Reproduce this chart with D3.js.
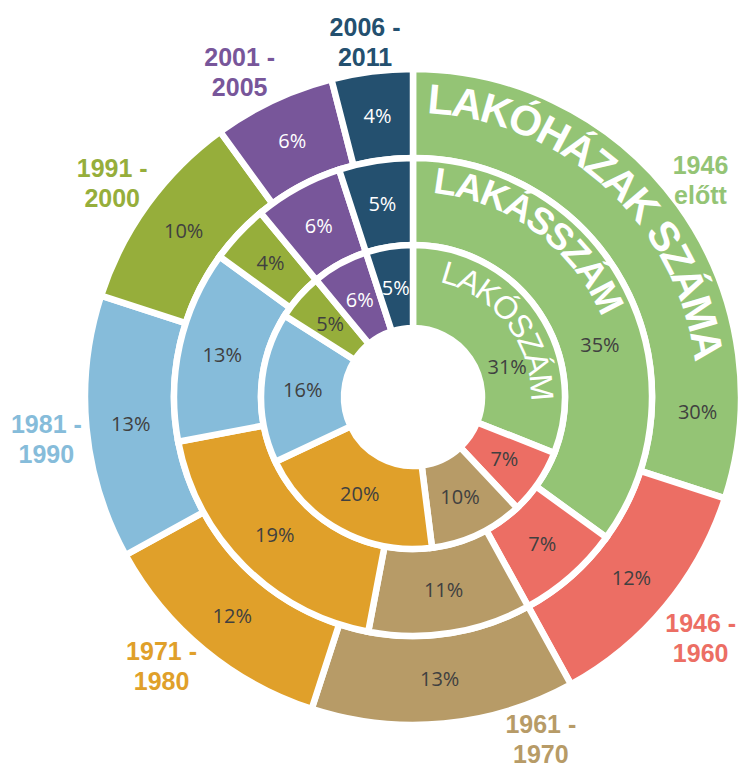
<!DOCTYPE html>
<html lang="hu">
<head>
    <meta charset="UTF-8">
    <script src="https://d3js.org/d3.v7.min.js"></script>
    <title>Lakóházak, lakások, lakók építési időszak szerint</title>
    <style>
        html,
        body {
            margin: 0px;
            padding: 0px;
            background-color: #ffffff;
        }
        svg {
            display: block;
        }
        .pct {
            font-family: "Open Sans", sans-serif;
            font-size: 20px;
        }
        .period {
            font-family: "Liberation Sans", Arial, sans-serif;
            font-weight: bold;
            font-size: 25px;
        }
        .ring-title {
            font-family: "Liberation Sans", Arial, sans-serif;
            fill: #ffffff;
        }
    </style>
</head>
<body>
    <div id="chart"></div>
    <script>

        // data, outer ring first
        let periods = ['1946 előtt', '1946 - 1960', '1961 - 1970', '1971 - 1980', '1981 - 1990', '1991 - 2000', '2001 - 2005', '2006 - 2011'];
        let period_lines = [['1946', 'előtt'], ['1946 -', '1960'], ['1961 -', '1970'], ['1971 -', '1980'], ['1981 -', '1990'], ['1991 -', '2000'], ['2001 -', '2005'], ['2006 -', '2011']];
        let ring_names = ['LAKÓHÁZAK SZÁMA', 'LAKÁSSZÁM', 'LAKÓSZÁM'];
        let lakohazak_szama = [30, 12, 13, 12, 13, 10, 6, 4];
        let lakasszam = [35, 7, 11, 19, 13, 4, 6, 5];
        let lakoszam = [31, 7, 10, 20, 16, 5, 6, 5];

        let period_colours = ['#94C475', '#EC6E64', '#B79B67', '#E0A02A', '#86BCDA', '#96AE3B', '#78569A', '#24506F'];

        let width = 738;
        let height = 765;
        let cx = 413, cy = 397;

        // path radii, outside -> inside (white stroke eats half the gap)
        let ring_edges = [328, 239, 152, 69];

        // where the big green slice keeps its % label (moved off the titles)
        let lead_label = [{ deg: 93, r: 285 }, { deg: 74.5, r: 194 }, { deg: 72, r: 99 }];

        let title_style = [
            { r: 284, start: 2.8, size: 42, weight: 'bold', spacing: -2.1 },
            { r: 205, start: 5.5, size: 37, weight: 'bold', spacing: -1.5 },
            { r: 118, start: 13, size: 32, weight: 'normal', spacing: -1.6 }
        ];

        // box centres of the period names, polar (deg clockwise from top, radius)
        let period_label_pos = [
            { deg: 53, r: 360 }, { deg: 129.9, r: 375 }, { deg: 159.5, r: 365 }, { deg: 223.1, r: 368 },
            { deg: 263.5, r: 369 }, { deg: 305.4, r: 369 }, { deg: 331.9, r: 368 }, { deg: 352.3, r: 358 }
        ];

        let colour = d3.scaleOrdinal().domain(periods).range(period_colours);
        let rad = (deg) => deg * Math.PI / 180;
        let polar = (deg, r) => [r * Math.sin(rad(deg)), -r * Math.cos(rad(deg))];

        let svg = d3.select('#chart').append('svg').attr('width', width).attr('height', height);
        let g = svg.append('g').attr('transform', `translate(${cx},${cy})`);

        let pie = d3.pie().sort(null).value((d) => d.value);
        let series = [lakohazak_szama, lakasszam, lakoszam];

        let slices = g.append('g');
        let titles = g.append('g');
        let labels = g.append('g');

        series.forEach((values, ri) => {
            let arc = d3.arc().innerRadius(ring_edges[ri + 1]).outerRadius(ring_edges[ri]);
            let arcs = pie(values.map((v, i) => ({ period: periods[i], value: v })));

            slices.append('g').selectAll('path')
                .data(arcs)
                .join('path')
                .attr('d', arc)
                .attr('fill', (d) => colour(d.data.period))
                .attr('stroke', '#ffffff')
                .attr('stroke-width', 6.5)
                .attr('stroke-linejoin', 'miter');

            // curved ring title
            let ts = title_style[ri];
            let p = d3.path();
            p.arc(0, 0, ts.r, rad(ts.start) - Math.PI / 2, rad(ts.start) - Math.PI / 2 + 1.9 * Math.PI, false);
            titles.append('path')
                .attr('id', 'title-path-' + ri)
                .attr('d', p.toString())
                .attr('fill', 'none');
            titles.append('text')
                .attr('class', 'ring-title')
                .attr('font-size', ts.size)
                .attr('font-weight', ts.weight)
                .attr('letter-spacing', ts.spacing)
                .append('textPath')
                .attr('href', '#title-path-' + ri)
                .text(ring_names[ri]);

            labels.append('g').selectAll('text')
                .data(arcs)
                .join('text')
                .attr('class', 'pct')
                .attr('text-anchor', 'middle')
                .attr('dy', '0.36em')
                .attr('transform', (d, i) => {
                    let xy = i === 0 ? polar(lead_label[ri].deg, lead_label[ri].r) : arc.centroid(d);
                    return `translate(${xy[0]},${xy[1]})`;
                })
                .attr('fill', (d) => d3.lab(colour(d.data.period)).l < 55 ? '#ffffff' : '#404040')
                .text((d) => d.data.value + '%');
        });

        // period names around the outside
        let names = g.append('g').selectAll('text')
            .data(periods)
            .join('text')
            .attr('class', 'period')
            .attr('text-anchor', 'middle')
            .attr('fill', (d) => colour(d))
            .attr('transform', (d, i) => {
                let xy = polar(period_label_pos[i].deg, period_label_pos[i].r);
                return `translate(${xy[0]},${xy[1]})`;
            });

        names.each(function (d, i) {
            let t = d3.select(this);
            t.append('tspan').attr('x', 0).attr('y', -6).text(period_lines[i][0]);
            t.append('tspan').attr('x', 0).attr('y', 24).text(period_lines[i][1]);
        });

    </script>
</body>
</html>
